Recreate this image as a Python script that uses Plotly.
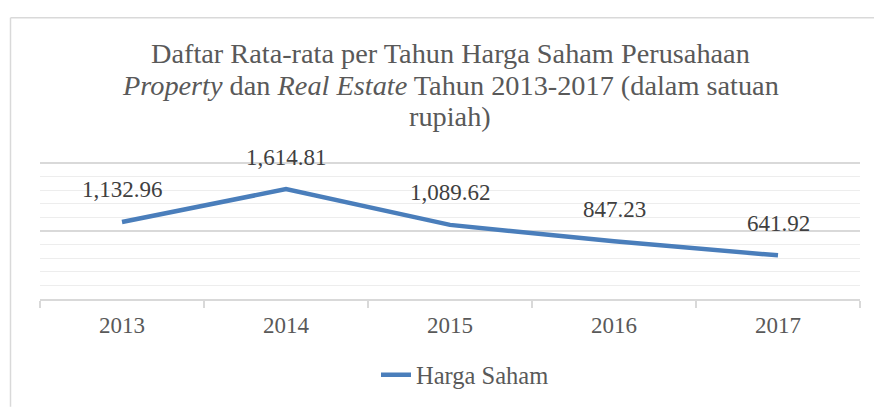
import plotly.graph_objects as go

years = ["2013", "2014", "2015", "2016", "2017"]
harga_saham = [1132.96, 1614.81, 1089.62, 847.23, 641.92]
label_texts = ["1,132.96", "1,614.81", "1,089.62", "847.23", "641.92"]
title_lines = [
    "Daftar Rata-rata per Tahun Harga Saham Perusahaan",
    "<i>Property</i> dan <i>Real Estate</i> Tahun 2013-2017 (dalam satuan",
    "rupiah)",
]
title_centers_px = [50.5, 83.0, 115.5]

W, H = 874, 409
PLOT_BOTTOM = 303
PX_PER_1000 = 70
PH = 142
ML, MR = 40, 14
MB = H - PLOT_BOTTOM
MT = H - MB - PH
PW = W - ML - MR
FONT = "Liberation Serif"
YMAX = 1000 * PH / PX_PER_1000

fig = go.Figure()
fig.add_trace(go.Scatter(
    x=years, y=harga_saham, mode="lines", name="Harga Saham",
    line=dict(color="#4A7EBB", width=4.5),
))

annos = []
for i, (v, t) in enumerate(zip(harga_saham, label_texts)):
    annos.append(dict(x=i, y=v, xref="x", yref="y", text=t, showarrow=False,
                      yshift=32, yanchor="middle",
                      font=dict(family=FONT, size=23, color="#404040")))
for line, cy in zip(title_lines, title_centers_px):
    annos.append(dict(x=0.5, y=(PLOT_BOTTOM - cy) / PH, xref="paper", yref="paper",
                      xanchor="center", yanchor="middle", showarrow=False, text=line,
                      font=dict(family=FONT, size=28.3, color="#595959")))

border_x = (10.5 - ML) / PW
border_y = (PLOT_BOTTOM - 13.5) / PH
shapes = [
    dict(type="line", xref="paper", yref="paper", x0=border_x, x1=(W + 5 - ML) / PW,
         y0=border_y, y1=border_y, line=dict(color="#D9D9D9", width=1.5)),
    dict(type="line", xref="paper", yref="paper", x0=border_x, x1=border_x,
         y0=-(MB + 5) / PH, y1=border_y, line=dict(color="#D9D9D9", width=1.5)),
]

fig.update_layout(
    width=W, height=H,
    margin=dict(l=ML, r=MR, t=MT, b=MB),
    paper_bgcolor="white", plot_bgcolor="white",
    font=dict(family=FONT, size=23, color="#595959"),
    showlegend=True,
    legend=dict(orientation="h", x=(376 - ML) / PW, xanchor="left", y=(PLOT_BOTTOM - 381) / PH,
                yanchor="middle", font=dict(family=FONT, size=24.5, color="#595959")),
    xaxis=dict(type="category", showgrid=False, showline=True, linecolor="#D9D9D9", linewidth=1.5,
               ticks="outside", tickson="boundaries", ticklen=7, tickcolor="#D9D9D9", tickwidth=1.5,
               ticklabelstandoff=5, range=[-0.5, 4.5],
               tickfont=dict(family=FONT, size=23, color="#595959")),
    yaxis=dict(range=[0, YMAX], dtick=1000, showticklabels=False, showgrid=True,
               gridcolor="#D9D9D9", gridwidth=1.5, zeroline=False,
               minor=dict(dtick=200, showgrid=True, gridcolor="#EDEDED", gridwidth=1)),
    annotations=annos,
    shapes=shapes,
)

fig.write_html("out.html")
